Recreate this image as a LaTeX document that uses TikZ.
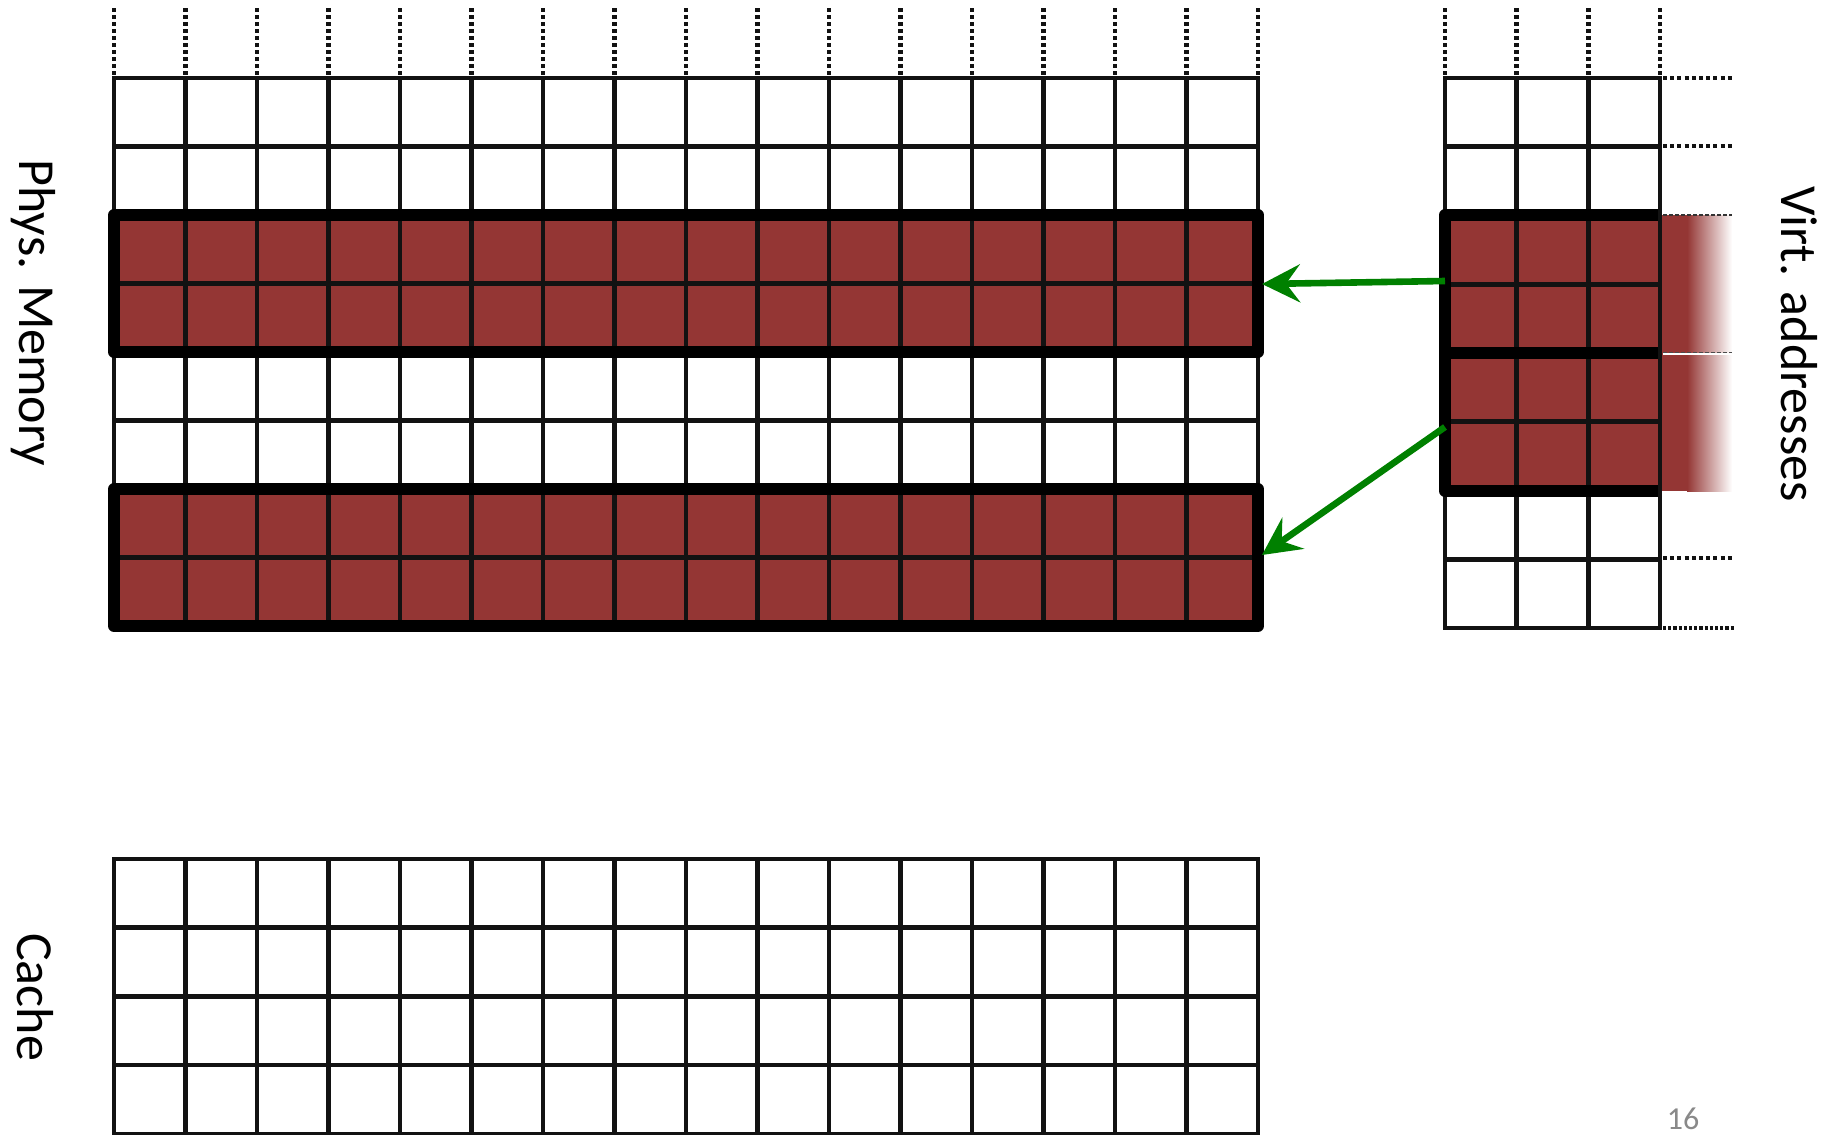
\documentclass[tikz,border=0pt]{standalone}
\usepackage{fontspec}
\setmainfont{Carlito}
\usetikzlibrary{arrows.meta}
\definecolor{cellred}{HTML}{943634}
\definecolor{arrowgreen}{HTML}{008000}
\definecolor{pagegray}{HTML}{898989}
\begin{document}
\begin{tikzpicture}[x=0.5pt,y=-0.5pt,
  gridline/.style={line width=2.3pt, black!93, line cap=rect},
  thickbox/.style={line width=6pt, line join=round, black},
  dotv/.style={line width=2.2pt, black!93, dash pattern=on 2pt off 1.5pt},
  doth/.style={line width=2.2pt, black!93, dash pattern=on 2pt off 1.6pt},
  maparrow/.style={line width=3.3pt, arrowgreen, -{Stealth[length=19pt,width=19pt,inset=7pt]}},
  label/.style={font=\fontsize{26}{30}\selectfont, rotate=-90, inner sep=0pt}]
\useasboundingbox (0,0) rectangle (1827,1135);

% ---------- physical memory ----------
\fill[cellred] (114,215) rectangle (1258,352);
\fill[cellred] (114,489) rectangle (1258,626);
\foreach \i in {0,...,16} {
  \draw[gridline] ({114+71.5*\i},78) -- ({114+71.5*\i},626);
  \draw[dotv] ({114+71.5*\i},8) -- ({114+71.5*\i},76);
}
\foreach \j in {0,...,8}
  \draw[gridline] (114,{78+68.5*\j}) -- (1258,{78+68.5*\j});
\draw[thickbox] (114,215) rectangle (1258,352);
\draw[thickbox] (114,489) rectangle (1258,626);

% ---------- cache ----------
\foreach \i in {0,...,16}
  \draw[gridline] ({114+71.5*\i},859) -- ({114+71.5*\i},1134);
\foreach \j in {0,...,4}
  \draw[gridline] (114,{859+68.7*\j}) -- (1258,{859+68.7*\j});

% ---------- virtual addresses ----------
\fill[cellred] (1445,215) rectangle (1688,491);
\shade[left color=cellred, right color=white] (1687,215) rectangle (1732,491);
\foreach \i in {0,...,3} {
  \draw[gridline] ({1445+71.67*\i},78) -- ({1445+71.67*\i},628);
  \draw[dotv] ({1445+71.67*\i},8) -- ({1445+71.67*\i},76);
}
\foreach \j in {0,...,8}
  \draw[gridline] (1445,{78+68.75*\j}) -- (1660,{78+68.75*\j});
\draw[thickbox] (1658,215) -- (1445,215) -- (1445,491) -- (1658,491);
\draw[thickbox] (1445,353) -- (1658,353);
\foreach \y in {78,146,558}
  \draw[doth] (1663,\y) -- (1732,\y);
\draw[doth, dash pattern=on 1.6pt off 1pt] (1663,628) -- (1735,628);
\draw[line width=0.7pt, black!80, dash pattern=on 2pt off 1pt] (1663,215) -- (1732,215);
\draw[line width=0.9pt, white] (1663,354) -- (1732,354);
\draw[line width=0.5pt, black!70, dash pattern=on 2pt off 1pt] (1663,352.5) -- (1732,352.5);

% ---------- mapping arrows ----------
\coordinate (vsrcA) at (1445,281);
\coordinate (pdstA) at (1262,284);
\coordinate (vsrcB) at (1445,427);
\coordinate (pdstB) at (1262,555);
\draw[maparrow] (vsrcA) -- (pdstA);
\draw[maparrow] (vsrcB) -- (pdstB);

% ---------- labels ----------
\node[label] (physlbl) at (33,313) {Phys. Memory};
\node[label] (virtlbl) at (1799,344) {Virt. addresses};
\node[label] (cachelbl) at (35,997) {Cache};
\node[text=pagegray, font=\fontsize{16}{18}\selectfont, inner sep=0pt] (pagenum) at (1683,1119) {16};
\end{tikzpicture}
\end{document}
